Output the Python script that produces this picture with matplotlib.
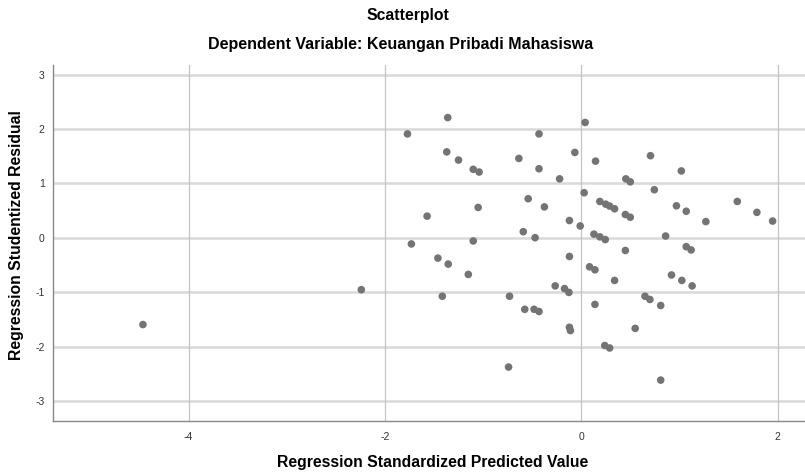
import numpy as np
import matplotlib
matplotlib.use("Agg")
import matplotlib.pyplot as plt

plt.rcParams['font.family'] = ['Liberation Sans', 'DejaVu Sans']
plt.rcParams['axes.unicode_minus'] = False

# regression standardized predicted value
pred = [
    -1.36, -1.77, -0.43, 0.04, -1.37, -1.25, -0.635, -0.065, -1.10, -1.04,
    -0.43, -0.22, 0.03, -0.54, -0.375, -1.05, -1.57, -0.12, -0.01, -0.59,
    -0.47, -1.73, -1.10, -0.12, -1.46, -1.355, 0.085, 0.14, 0.146, 0.706,
    1.02, 0.455, 0.50, 0.745, 0.19, 0.25, 0.29, 0.34, 0.97, 1.07,
    0.45, 0.50, 1.59, 1.79, 1.95, 1.27, 0.13, 0.19, 0.245, 0.86,
    0.45, 1.07, 1.12, -2.24, -1.15, -1.415, -0.73, -0.265, -0.17, -0.125,
    -0.575, -0.48, -0.43, -0.12, -0.11, -0.74, 0.34, 0.92, 1.025, 1.13,
    0.14, 0.65, 0.70, 0.81, 0.55, 0.24, 0.29, 0.81, -4.465,
]
# regression studentized residual
resid = [
    2.21, 1.91, 1.91, 2.12, 1.58, 1.43, 1.46, 1.57, 1.26, 1.21,
    1.27, 1.085, 0.83, 0.72, 0.57, 0.56, 0.40, 0.32, 0.22, 0.115,
    0.005, -0.11, -0.055, -0.34, -0.37, -0.48, -0.53, -0.585, 1.41, 1.51,
    1.23, 1.085, 1.03, 0.885, 0.67, 0.62, 0.585, 0.535, 0.59, 0.49,
    0.43, 0.38, 0.67, 0.47, 0.31, 0.30, 0.07, 0.02, -0.03, 0.035,
    -0.23, -0.16, -0.22, -0.95, -0.67, -1.07, -1.07, -0.88, -0.93, -1.00,
    -1.31, -1.31, -1.35, -1.64, -1.70, -2.37, -0.78, -0.68, -0.78, -0.88,
    -1.22, -1.07, -1.13, -1.24, -1.66, -1.975, -2.02, -2.61, -1.59,
]
xticks = [-4, -2, 0, 2]
yticks = [-3, -2, -1, 0, 1, 2, 3]

fig = plt.figure(figsize=(8.05, 4.73), dpi=100)
ax = fig.add_axes([0.066, 0.11, 0.934, 0.752])

for yt in yticks:
    ax.axhline(yt, color='#d9d9d9', lw=1.8, zorder=1)
for xt in xticks:
    ax.axvline(xt, color='#c4c4c4', lw=0.9, zorder=1)

ax.scatter(pred, resid, s=30, color='#747474', edgecolors='none', zorder=3)

ax.set_xlim(-5.38, 2.28)
ax.set_ylim(-3.36, 3.17)
ax.set_xticks(xticks)
ax.set_yticks(yticks)
ax.tick_params(length=0, labelsize=7.5, labelcolor='#333333', pad=8)
ax.tick_params(axis='y', pad=6)

for side in ['top', 'right']:
    ax.spines[side].set_visible(False)
for side in ['left', 'bottom']:
    ax.spines[side].set_color('#888888')
    ax.spines[side].set_linewidth(1.0)

# axis titles placed in figure pixels like the SPSS output
fig.text(433 / 805, 1 - 462 / 473, 'Regression Standardized Predicted Value',
         ha='center', va='center', fontsize=11.3, fontweight='bold')
fig.text(17 / 805, 1 - 235 / 473, 'Regression Studentized Residual',
         ha='center', va='center', rotation=90, fontsize=11.3,
         fontweight='bold')

fig.text(0.507, 0.967, 'Scatterplot', ha='center', va='center',
         fontsize=11.3, fontweight='bold')
fig.text(0.498, 0.905, 'Dependent Variable: Keuangan Pribadi Mahasiswa',
         ha='center', va='center', fontsize=11.5, fontweight='bold')

fig.savefig('out.png', dpi=100)
